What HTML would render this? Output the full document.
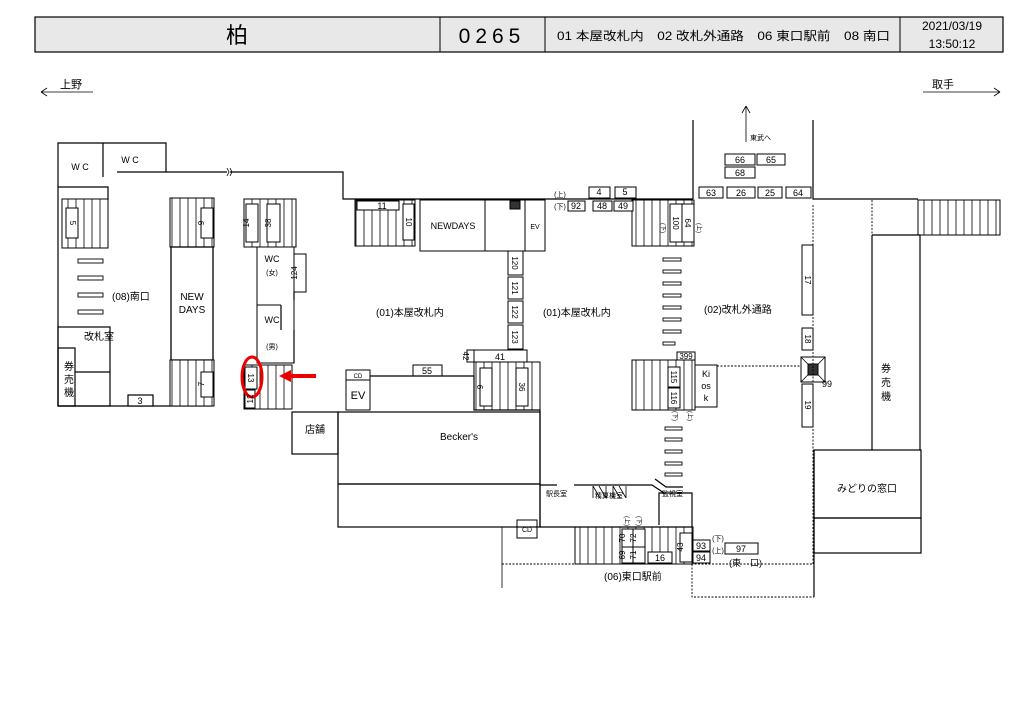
<!DOCTYPE html>
<html><head><meta charset="utf-8"><style>
body{margin:0;background:#fff}
svg{display:block}
text{font-family:"Liberation Sans","Noto Sans CJK JP",sans-serif;fill:#000}
</style></head><body>
<svg width="1024" height="724" viewBox="0 0 1024 724" xmlns="http://www.w3.org/2000/svg">
<defs>
<pattern id="tr" width="8" height="10" patternUnits="userSpaceOnUse"><rect width="8" height="10" fill="#fff"/><line x1="4" y1="0" x2="4" y2="10" stroke="#000" stroke-width="0.8"/></pattern>
</defs>
<!-- header -->
<rect x="35" y="17" width="968" height="35" fill="#e8e8e8" stroke="#000" stroke-width="1.2"/>
<line x1="440" y1="17" x2="440" y2="52" stroke="#000"/>
<line x1="545" y1="17" x2="545" y2="52" stroke="#000"/>
<line x1="900" y1="17" x2="900" y2="52" stroke="#000"/>
<text x="237" y="43" font-size="22" text-anchor="middle">柏</text>
<text x="492" y="43" font-size="21" text-anchor="middle" letter-spacing="5">0265</text>
<text x="557" y="40" font-size="12" textLength="333" lengthAdjust="spacingAndGlyphs">01 本屋改札内　02 改札外通路　06 東口駅前　08 南口</text>
<text x="952" y="30" font-size="12" text-anchor="middle">2021/03/19</text>
<text x="952" y="48" font-size="12" text-anchor="middle">13:50:12</text>
<!-- direction -->
<text x="60" y="88" font-size="11">上野</text>
<path d="M41 92 H93 M41 92 l6 -4 M41 92 l6 4" stroke="#000" fill="none" stroke-width="0.8"/>
<text x="932" y="88" font-size="11">取手</text>
<path d="M923 92 H1000 M1000 92 l-6 -4 M1000 92 l-6 4" stroke="#000" fill="none" stroke-width="0.8"/>

<g stroke="#000" fill="none" stroke-width="1.2">
<path d="M58 406 V143 H166 V172"/>
<path d="M103 143 V177 M58 187 H108 V200"/>
<path d="M117 172 H227 M230 172 H343 V199 H693"/>
<path d="M227 168 l2 4 l-2 4 M230 168 l2 4 l-2 4" stroke-width="0.8"/>
<path d="M58 406 H212"/>
<rect x="58" y="327" width="52" height="79"/>
<rect x="58" y="348" width="17" height="58"/>
<line x1="75" y1="372" x2="110" y2="372"/>
<rect x="128" y="395" width="25" height="11" fill="#fff"/>
</g>
<g stroke="#000" stroke-width="1">
<rect x="62" y="199" width="46" height="49" fill="url(#tr)"/>
<rect x="66" y="208" width="12" height="30" fill="#fff"/>
<rect x="170" y="198" width="44" height="49" fill="url(#tr)"/>
<rect x="201" y="208" width="12" height="30" fill="#fff"/>
<rect x="171" y="247" width="42" height="113" fill="#fff" stroke-width="1.3"/>
<rect x="170" y="360" width="44" height="46" fill="url(#tr)"/>
<rect x="201" y="372" width="12" height="25" fill="#fff"/>
<rect x="244" y="199" width="52" height="48" fill="url(#tr)"/>
<rect x="246" y="204" width="12" height="38" fill="#fff"/>
<rect x="267" y="204" width="13" height="38" fill="#fff"/>
<rect x="257" y="247" width="37" height="116" fill="#fff"/>
<line x1="257" y1="305" x2="281" y2="305"/>
<rect x="294" y="254" width="12" height="38" fill="#fff"/>
<rect x="244" y="365" width="48" height="44" fill="url(#tr)"/>
<rect x="245" y="367" width="12" height="22" fill="#fff"/>
<rect x="245" y="390" width="10" height="18" fill="#fff"/>
<rect x="355" y="200" width="60" height="46" fill="url(#tr)"/>
<rect x="357" y="201" width="42" height="9" fill="#fff"/>
<rect x="403" y="204" width="11" height="36" fill="#fff"/>
<rect x="420" y="200" width="65" height="51" fill="#fff"/>
<rect x="485" y="200" width="40" height="51" fill="#fff"/>
<rect x="525" y="200" width="20" height="51" fill="#fff"/>
<rect x="510" y="201" width="10" height="8" fill="#333"/>
<rect x="508" y="251" width="15" height="24" fill="#fff"/>
<rect x="508" y="277" width="15" height="22" fill="#fff"/>
<rect x="508" y="301" width="15" height="22" fill="#fff"/>
<rect x="508" y="325" width="15" height="24" fill="#fff"/>
<rect x="474" y="350" width="53" height="12" fill="#fff"/>
<rect x="467" y="350" width="7" height="12" fill="#fff"/>
<rect x="474" y="362" width="66" height="48" fill="url(#tr)"/>
<rect x="480" y="368" width="12" height="38" fill="#fff"/>
<rect x="516" y="368" width="12" height="38" fill="#fff"/>
<rect x="632" y="200" width="62" height="46" fill="url(#tr)"/>
<rect x="670" y="204" width="12" height="38" fill="#fff"/>
<rect x="682" y="204" width="12" height="38" fill="#fff"/>
<rect x="632" y="360" width="63" height="50" fill="url(#tr)"/>
<rect x="668" y="367" width="12" height="20" fill="#fff"/>
<rect x="668" y="388" width="12" height="20" fill="#fff"/>
<rect x="677" y="352" width="18" height="8" fill="#fff"/>
<rect x="695" y="365" width="22" height="42" fill="#fff"/>
<rect x="918" y="200" width="82" height="35" fill="url(#tr)"/>
<rect x="575" y="527" width="118" height="37" fill="url(#tr)"/>
<rect x="622" y="529" width="11" height="18" fill="#fff"/>
<rect x="633" y="529" width="12" height="18" fill="#fff"/>
<rect x="622" y="547" width="11" height="16" fill="#fff"/>
<rect x="633" y="547" width="12" height="16" fill="#fff"/>
<rect x="648" y="552" width="24" height="11" fill="#fff"/>
<rect x="680" y="533" width="12" height="29" fill="#fff"/>
<rect x="693" y="540" width="17" height="11" fill="#fff"/>
<rect x="693" y="552" width="17" height="11" fill="#fff"/>
<rect x="725" y="543" width="33" height="11" fill="#fff"/>
<rect x="589" y="187" width="21" height="11" fill="#fff"/>
<rect x="615" y="187" width="21" height="11" fill="#fff"/>
<rect x="568" y="201" width="17" height="10" fill="#fff"/>
<rect x="593" y="201" width="19" height="10" fill="#fff"/>
<rect x="614" y="201" width="19" height="10" fill="#fff"/>
<rect x="725" y="154" width="30" height="11" fill="#fff"/>
<rect x="757" y="154" width="28" height="11" fill="#fff"/>
<rect x="725" y="167" width="30" height="11" fill="#fff"/>
<rect x="699" y="187" width="24" height="11" fill="#fff"/>
<rect x="727" y="187" width="28" height="11" fill="#fff"/>
<rect x="758" y="187" width="24" height="11" fill="#fff"/>
<rect x="786" y="187" width="25" height="11" fill="#fff"/>
<rect x="802" y="245" width="11" height="70" fill="#fff"/>
<rect x="802" y="328" width="11" height="22" fill="#fff"/>
<rect x="802" y="384" width="11" height="43" fill="#fff"/>
<rect x="801" y="357" width="24" height="25" fill="#fff"/>
<path d="M801 357 L825 382 M825 357 L801 382" stroke-width="0.8"/>
<rect x="808" y="364" width="10" height="11" fill="#333"/>
<rect x="413" y="365" width="29" height="11" fill="#fff"/>
<rect x="346" y="370" width="24" height="10" fill="#fff"/>
<rect x="346" y="380" width="24" height="30" fill="#fff"/>
<rect x="517" y="520" width="20" height="18" fill="#fff"/>
</g>
<g fill="#fff" stroke="#000" stroke-width="0.9">
<rect x="78" y="259" width="25" height="4"/><rect x="78" y="276" width="25" height="4"/><rect x="78" y="293" width="25" height="4"/><rect x="78" y="310" width="25" height="4"/>
<rect x="663" y="258" width="18" height="3"/><rect x="663" y="270" width="18" height="3"/><rect x="663" y="282" width="18" height="3"/><rect x="663" y="294" width="18" height="3"/><rect x="663" y="306" width="18" height="3"/><rect x="663" y="318" width="18" height="3"/><rect x="663" y="330" width="18" height="3"/><rect x="663" y="342" width="12" height="3"/>
<rect x="665" y="427" width="17" height="3"/><rect x="665" y="438" width="17" height="3"/><rect x="665" y="450" width="17" height="3"/><rect x="665" y="462" width="17" height="3"/><rect x="665" y="473" width="17" height="3"/>
</g>
<g stroke="#000" fill="none" stroke-width="1.2">
<path d="M294 292 V300 M294 330 V363 M281 305 V330"/>
<path d="M370 376 H474 V410 H540 V527"/>
<rect x="292" y="412" width="46" height="42"/>
<rect x="338" y="412" width="202" height="72"/>
<rect x="338" y="484" width="202" height="43"/>
<path d="M540 485 H557 M574 485 H652 L664 493 M655 479 L666 487 H683"/>
<path d="M659 525 V493 H692 V527 H540"/>
<path d="M502 527 V588" stroke-width="0.8"/>
<path d="M693 120 V199 M813 120 V199 H918"/>
<path d="M872 235 V450 M920 235 V450 M872 235 H920"/>
<rect x="814" y="450" width="107" height="68"/>
<rect x="814" y="518" width="107" height="35"/>
<path d="M814 450 V597"/>
<path d="M746 142 V106 M746 106 l-4 7 M746 106 l4 7" stroke-width="0.8"/>
<path d="M593 486 v12 M593 486 l7 12 M599 486 l7 12 M606 486 v12 M613 486 v12 M613 486 l7 12 M619 486 l7 12 M626 486 v12" stroke-width="0.8"/>
</g>
<g stroke="#000" fill="none" stroke-width="0.9" stroke-dasharray="2,1.5">
<path d="M813 205 V564 M872 200 V235"/>
<path d="M717 366 H801"/>
<path d="M502 564 H814 M692 564 V597 H814"/>
</g>
<ellipse cx="252" cy="377" rx="10" ry="20" fill="none" stroke="#e00" stroke-width="3"/>
<path d="M316 376 H290" stroke="#e00" stroke-width="4"/>
<path d="M279 376 l12 -6 v12 z" fill="#e00"/>
<g font-size="9" text-anchor="middle">
<text x="80" y="170">W C</text><text x="130" y="163">W C</text>
<text x="272" y="262">WC</text><text x="272" y="275" font-size="7">(女)</text>
<text x="272" y="323">WC</text><text x="272" y="349" font-size="7">(男)</text>
<text x="140" y="404">3</text>
<text x="382" y="209">11</text>
<text x="453" y="229">NEWDAYS</text>
<text x="535" y="229" font-size="7">EV</text>
<text x="500" y="360">41</text>
<text x="427" y="374">55</text>
<text x="358" y="378" font-size="6">CD</text>
<text x="358" y="399" font-size="11">EV</text>
<text x="527" y="532" font-size="7">CD</text>
<text x="599" y="195">4</text><text x="625" y="195">5</text>
<text x="576" y="209">92</text><text x="602" y="209">48</text><text x="623" y="209">49</text>
<text x="740" y="163">66</text><text x="771" y="163">65</text><text x="740" y="176">68</text>
<text x="711" y="196">63</text><text x="741" y="196">26</text><text x="770" y="196">25</text><text x="798" y="196">64</text>
<text x="686" y="359" font-size="8">399</text>
<text x="706" y="377">Ki</text><text x="706" y="389">os</text><text x="706" y="401">k</text>
<text x="827" y="387">99</text>
<text x="660" y="561">16</text>
<text x="701" y="549">93</text><text x="701" y="561">94</text>
<text x="741" y="552">97</text>
<text x="560" y="197" font-size="7">(上)</text><text x="560" y="209" font-size="7">(下)</text>
<text x="718" y="541" font-size="7">(下)</text><text x="718" y="553" font-size="7">(上)</text>
</g>
<g font-size="8" text-anchor="middle">
<text transform="translate(70,223) rotate(90)">5</text>
<text transform="translate(204,223) rotate(-90)">9</text>
<text transform="translate(204,384) rotate(-90)">7</text>
<text transform="translate(249,223) rotate(-90)">14</text>
<text transform="translate(271,223) rotate(-90)">38</text>
<text transform="translate(297,273) rotate(-90)">124</text>
<text transform="translate(248,378) rotate(90)">13</text>
<text transform="translate(253,399) rotate(-90)">12</text>
<text transform="translate(406,222) rotate(90)">10</text>
<text transform="translate(512,263) rotate(90)">120</text>
<text transform="translate(512,288) rotate(90)">121</text>
<text transform="translate(512,312) rotate(90)">122</text>
<text transform="translate(512,337) rotate(90)">123</text>
<text transform="translate(463,356) rotate(90)">42</text>
<text transform="translate(483,387) rotate(-90)">9</text>
<text transform="translate(519,387) rotate(90)">36</text>
<text transform="translate(673,223) rotate(90)">100</text>
<text transform="translate(685,223) rotate(90)">64</text>
<text transform="translate(671,377) rotate(90)">115</text>
<text transform="translate(671,398) rotate(90)">116</text>
<text transform="translate(805,280) rotate(90)">17</text>
<text transform="translate(805,339) rotate(90)">18</text>
<text transform="translate(805,405) rotate(90)">19</text>
<text transform="translate(625,538) rotate(-90)">70</text>
<text transform="translate(636,538) rotate(-90)">72</text>
<text transform="translate(625,555) rotate(-90)">69</text>
<text transform="translate(636,555) rotate(-90)">71</text>
<text transform="translate(683,547) rotate(-90)">43</text>
<text transform="translate(661,228) rotate(90)" font-size="6">(下)</text>
<text transform="translate(697,228) rotate(90)" font-size="6">(上)</text>
<text transform="translate(673,416) rotate(90)" font-size="6">(下)</text>
<text transform="translate(688,416) rotate(90)" font-size="6">(上)</text>
<text transform="translate(625,521) rotate(90)" font-size="6">(上)</text>
<text transform="translate(637,521) rotate(90)" font-size="6">(下)</text>
</g>
<g font-size="10">
<text x="84" y="340">改札室</text>
<text x="64" y="370">券</text><text x="64" y="383">売</text><text x="64" y="396">機</text>
<text x="112" y="300">(08)南口</text>
<text x="192" y="300" text-anchor="middle">NEW</text><text x="192" y="313" text-anchor="middle">DAYS</text>
<text x="376" y="316">(01)本屋改札内</text>
<text x="543" y="316">(01)本屋改札内</text>
<text x="704" y="313">(02)改札外通路</text>
<text x="305" y="433">店舗</text>
<text x="440" y="440">Becker's</text>
<text x="604" y="580">(06)東口駅前</text>
<text x="729" y="566" font-size="9">(東　口)</text>
<text x="837" y="492">みどりの窓口</text>
<text x="881" y="372">券</text><text x="881" y="386">売</text><text x="881" y="400">機</text>
</g>
<g font-size="7">
<text x="750" y="140">東武へ</text>
<text x="546" y="496">駅長室</text>
<text x="595" y="498">精算機室</text>
<text x="662" y="496">監視室</text>
</g>
</svg>
</body></html>
